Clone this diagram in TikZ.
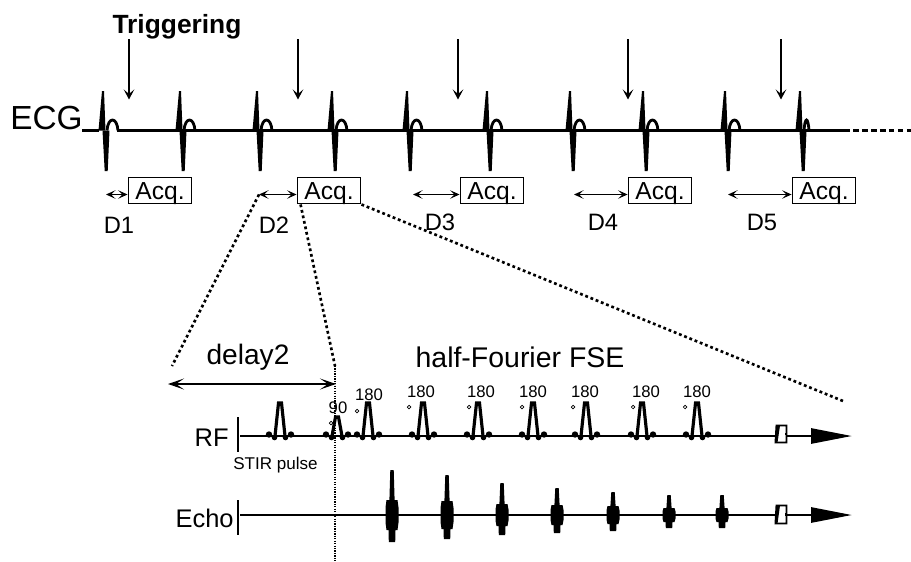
\documentclass[tikz,border=0pt]{standalone}
\usepackage{fontspec}
\setmainfont{Liberation Sans}
\usetikzlibrary{arrows.meta,positioning,calc}
\tikzset{
  lbl/.style={inner sep=0pt,font=\fontsize{#1}{#1}\selectfont},
  lbl/.default=13.5,
  acqbox/.style={draw,line width=1.1pt,minimum width=63*.2mm,minimum height=26*.2mm,
                 inner sep=0pt,text height=10.8pt,text depth=0pt,font=\fontsize{14}{14}\selectfont},
  sigline/.style={line width=1.6pt},
  trigarrow/.style={-{Stealth[length=2mm,width=2.1mm,inset=.9mm]},line width=.7pt},
  delayarrow/.style={{Stealth[length=1.9mm,width=1.7mm,inset=.9mm]}-{Stealth[length=1.9mm,width=1.7mm,inset=.9mm]},line width=.7pt},
  zoomline/.style={line width=1.5pt,dash pattern=on 1.6pt off 1.6pt},
  timearrow/.style={sigline,-{Triangle[length=8.2mm,width=3mm]}},
  degmark/.style={circle,draw,line width=.4pt,inner sep=0pt,minimum size=2pt},
  pics/beat/.style={code={
    \fill (-4.5,0) -- (-1,-39.5) -- (1,-39.5) -- (2.5,0) -- cycle;
    \fill (-.5,0) -- (1.7,40.5) -- (4.7,40.5) -- (6.5,0) -- cycle;
    \draw[sigline] (4,0) .. controls (5,-14) and (#1-1,-14) .. (#1,0);
  }},
  pics/rfpulse/.style={code={
    \draw[line width=1.8pt] (-5,0) -- (-1.5,-#1) -- (1.5,-#1) -- (5,0);
    \fill (-2.7,-#1-1) rectangle (2.7,-#1+1);
    \foreach \s in {-1,1}{
      \fill (\s*11,-1.5) circle (3.2);
      \fill (\s*5.5,1.5) circle (2.8);
    }
  }},
  pics/echo/.style n args={3}{code={
    \fill (-1.7,-#1) -- (1.7,-#1) -- (2.6,-#3) -- (5.5,-#3) -- (6.5,{-.5*#3}) -- (6.5,{.5*#3}) -- (5.5,#3) -- (3.5,#3)
      -- (3.2,#2) -- (-3.2,#2) -- (-3.5,#3) -- (-5.5,#3) -- (-6.5,{.5*#3}) -- (-6.5,{-.5*#3}) -- (-5.5,-#3) -- (-2.6,-#3) -- cycle;
  }},
  pics/glitch/.style={code={
    \fill[white] (-4,-#1) rectangle (6,#1);
    \draw[line width=1.1pt] (-4.5,-#1) -- (5.5,-#1) -- (5.5,#1) -- (-5.5,#1) -- cycle;
    \fill (-4.5,-#1) -- (-1,-#1) -- (-3.5,#1) -- (-5.5,#1) -- cycle;
    \fill (3.5,-1.2) rectangle (5.5,1.2);
  }},
}

\begin{document}
\begin{tikzpicture}[x=.02cm,y=-.02cm]
  \useasboundingbox (0,0) rectangle (911,561);

  % ECG trace
  \node[lbl=19,anchor=east] (ecg) at (83,118){ECG};
  \node[lbl=15,font=\fontsize{15}{15}\selectfont\bfseries] (trig) at (177,27){Triggering};
  \coordinate (ecgA) at (82,130.5);
  \coordinate (ecgB) at (99,130.5);
  \coordinate (ecgC) at (117,130.5);
  \coordinate (ecgD) at (850,130.5);
  \coordinate (ecgE) at (911,130.5);
  \draw[sigline] (ecgA) -- (ecgB);
  \draw[sigline] (ecgC) -- (ecgD);
  \draw[line width=1.7pt,dash pattern=on 3.2pt off 1.9pt] (ecgD) ++(3,0) -- (ecgE);
  \foreach \x/\tw in {103/15,180/15,257/15,332/15,407/15,487/15,570/15,643/15,725/15,800/9}{
    \pic at (\x,130.5) {beat=\tw};
  }
  \foreach \i/\x in {1/129,2/298,3/458,4/628,5/781}{
    \coordinate (tt\i) at (\x,39);
    \coordinate (tb\i) at (\x,99.5);
    \draw[trigarrow] (tt\i) -- (tb\i);
  }

  % acquisitions and delays
  \foreach \i/\x/\s/\lx/\ly in {1/160/106/119/225,2/329/259/274/225,3/492/413/440/222,4/660/574/603/222,5/824/728/762/222}{
    \node[acqbox] (a\i) at (\x,190.5){Acq.};
    \coordinate (ds\i) at (\s,194.5);
    \draw[delayarrow] (ds\i) -- (ds\i-|a\i.west);
    \node[lbl] (d\i) at (\lx,\ly){D\i};
  }

  % zoom lines
  \coordinate (zl) at (172,366);
  \coordinate (zm) at (335,366);
  \coordinate (zr) at (843,401);
  \draw[zoomline] (ds2) -- (zl);
  \draw[zoomline] ($(a2.south west)+(4,0)$) -- (zm);
  \draw[zoomline] (a2.south east) -- (zr);

  % sequence
  \node[lbl=16] (dly) at (248,357){delay2};
  \node[lbl=16.2] (fse) at (520,357){half-Fourier FSE};
  \coordinate (dl) at (168,384);
  \coordinate (dr) at (336,384);
  \draw[line width=1.5pt,{Stealth[length=3.2mm,width=2.2mm,inset=1.6mm]}-{Stealth[length=3.2mm,width=2.2mm,inset=1.6mm]}] (dl) -- (dr);
  \coordinate (vb) at (335,561);
  \draw[line width=.6pt,dash pattern=on .7pt off .7pt] (zm) -- (vb);

  \node[lbl=14.5,anchor=east] (rf) at (229,438){RF};
  \node[lbl=9.7,anchor=west] (stir) at (233,465){STIR pulse};
  \node[lbl=14.5,anchor=east] (echo) at (234,518){Echo};
  \coordinate (rfa) at (238,417);
  \coordinate (rfb) at (238,452);
  \coordinate (eca) at (238,500);
  \coordinate (ecb) at (238,535);
  \draw[line width=1.6pt] (rfa) -- (rfb);
  \draw[line width=1.6pt] (eca) -- (ecb);
  \coordinate (rfs) at (240,436);
  \coordinate (rfe) at (852,436);
  \coordinate (ecs) at (240,515);
  \coordinate (ece) at (852,515);
  \draw[timearrow] (rfs) -- (rfe);
  \draw[timearrow] (ecs) -- (ece);

  \pic at (280,436) {rfpulse=33};
  \pic at (337,436) {rfpulse=19};
  \foreach \x in {368,423,478,533,586,642,697}{
    \pic at (\x,436) {rfpulse=33};
  }
  \node[lbl=9.5] (n90) at (338,408){90};
  \node[degmark] (c90) at (331,423){};
  \foreach \i/\lx/\ly/\cx/\cy in {1/369/395/357/411,2/421/392/409/407,3/481/392/469/407,4/533/392/522/407,5/585/392/573/407,6/646/392/633/407,7/697/392/685/407}{
    \node[lbl=9.5] (n\i) at (\lx,\ly){180};
    \node[degmark] (c\i) at (\cx,\cy){};
  }
  \foreach \x/\up/\dn/\hb in {392/45/27/15,447/40/24/14,502/32/20/11,557/27/18/10,613/23/16/9,669/20/13/7,722/20/13/7}{
    \pic at (\x,515) {echo={\up}{\dn}{\hb}};
  }
  \pic at (781,434) {glitch=8.5};
  \pic at (781,514.5) {glitch=9};
\end{tikzpicture}
\end{document}
